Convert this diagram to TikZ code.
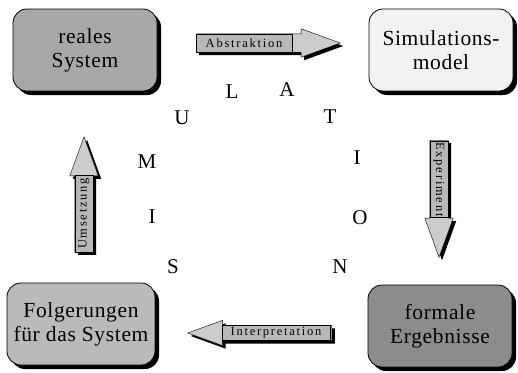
\documentclass[tikz,border=0pt]{standalone}
\usepackage{fontspec}
\setmainfont{Liberation Serif}
\usetikzlibrary{shapes.arrows,shadows}
\definecolor{realgray}{gray}{0.66}
\definecolor{modelgray}{gray}{0.95}
\definecolor{resultgray}{gray}{0.55}
\definecolor{conclgray}{gray}{0.73}
\definecolor{arrowgray}{gray}{0.80}
\definecolor{taggray}{gray}{0.72}

\begin{document}
\begin{tikzpicture}[x=1pt,y=-1pt,
    stage/.style={rounded corners=14pt, draw=black, thick, minimum width=144pt, minimum height=82pt,
      align=center, font=\fontsize{21.5}{24}\selectfont\addfontfeature{LetterSpace=3},
      drop shadow={shadow xshift=4pt, shadow yshift=-4pt, opacity=1, fill=black}},
    blockarrow/.style={single arrow, draw=black, fill=arrowgray, inner sep=0pt, anchor=tail,
      single arrow tip angle=40, single arrow head extend=5pt, minimum width=28pt,
      drop shadow={shadow xshift=3pt, shadow yshift=-3pt, opacity=1, fill=black}},
    tag/.style={draw=black, fill=taggray, inner sep=0pt, minimum height=18pt,
      font=\fontsize{12.5}{13}\selectfont\addfontfeature{LetterSpace=14}},
    letter/.style={font=\fontsize{21}{21}\selectfont}
]
    \useasboundingbox (0,0) rectangle (518,372);

    % the four stages
    \node[stage, fill=realgray] (real) at (85,50) {reales\\System};
    \node[stage, fill=modelgray] (model) at (441,50) {Simulations-\\model};
    \node[stage, fill=resultgray] (result) at (440,326) {formale\\Ergebnisse};
    \node[stage, fill=conclgray, minimum width=148pt] (concl) at (81,324) {Folgerungen\\für das System};

    % block arrows between them
    \node[blockarrow, minimum height=144pt] (abs) at (196,43) {\rule{0pt}{18pt}};
    \node[tag, minimum width=96pt] (abstag) at (244,43) {Abstraktion};

    \node[blockarrow, rotate=-90, minimum height=117pt] (exp) at (439,140) {\rule{0pt}{18pt}};
    \node[tag, rotate=-90, minimum width=76pt] (exptag) at (439,179.5) {Experiment};

    \node[blockarrow, shape border rotate=180, minimum height=144pt, minimum width=25pt] (int) at (332,333) {\rule{0pt}{15pt}};
    \node[tag, minimum width=108pt, minimum height=15pt] (inttag) at (276,333) {Interpretation};

    \node[blockarrow, rotate=90, minimum height=115pt] (ums) at (84,252) {\rule{0pt}{18pt}};
    \node[tag, rotate=90, minimum width=77pt] (umstag) at (84,213.5) {Umsetzung};

    % SIMULATION around the cycle
    \node[letter] (s1) at (173,267) {S};
    \node[letter] (i1) at (152,217) {I};
    \node[letter] (m1) at (147,162) {M};
    \node[letter] (u1) at (182,118) {U};
    \node[letter] (l1) at (232,92) {L};
    \node[letter] (a1) at (287,90) {A};
    \node[letter] (t1) at (330,117) {T};
    \node[letter] (i2) at (357,158) {I};
    \node[letter] (o1) at (360,218) {O};
    \node[letter] (n1) at (340,267) {N};
\end{tikzpicture}
\end{document}
